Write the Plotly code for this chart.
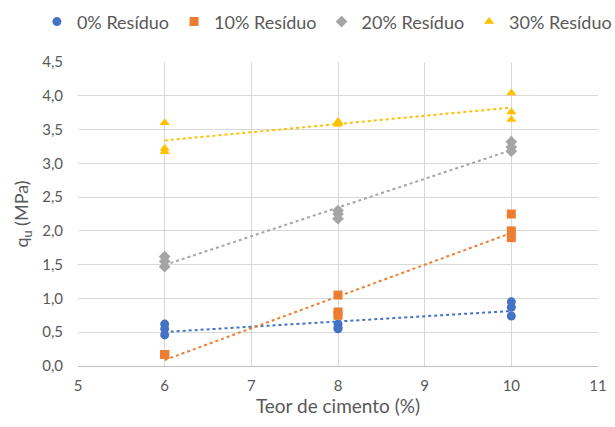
import numpy as np
import plotly.graph_objects as go

x_vals = [6, 6, 6, 8, 8, 8, 10, 10, 10]
series_names = ["0% Resíduo", "10% Resíduo", "20% Resíduo", "30% Resíduo"]
y_0 = [0.62, 0.55, 0.46, 0.62, 0.57, 0.55, 0.95, 0.87, 0.74]
y_10 = [0.17, 0.17, 0.17, 1.05, 0.80, 0.75, 2.25, 2.00, 1.90]
y_20 = [1.62, 1.55, 1.47, 2.30, 2.25, 2.18, 3.32, 3.24, 3.18]
y_30 = [3.60, 3.22, 3.17, 3.60, 3.62, 3.58, 4.04, 3.76, 3.65]
x_ticks = [5, 6, 7, 8, 9, 10, 11]
y_ticks = [0.0, 0.5, 1.0, 1.5, 2.0, 2.5, 3.0, 3.5, 4.0, 4.5]

colors = ["#4472C4", "#ED7D31", "#A5A5A5", "#FFC000"]
symbols = ["circle", "square", "diamond", "triangle-up"]
all_y = [y_0, y_10, y_20, y_30]

fig = go.Figure()
for name, ys, c, s in zip(series_names, all_y, colors, symbols):
    slope, inter = np.polyfit(x_vals, ys, 1)
    xl = [min(x_vals), max(x_vals)]
    fig.add_trace(go.Scatter(x=xl, y=[slope * v + inter for v in xl], mode="lines",
                             line=dict(color=c, width=2, dash="dot"),
                             showlegend=False, hoverinfo="skip"))
for name, ys, c, s in zip(series_names, all_y, colors, symbols):
    fig.add_trace(go.Scatter(x=x_vals, y=ys, mode="markers", name=name,
                             marker=dict(color=c, symbol=s, size=9, line=dict(width=0))))

font_color = "#595959"
fig.update_layout(
    width=615, height=427,
    paper_bgcolor="white", plot_bgcolor="white",
    margin=dict(l=78, r=17, t=62, b=61, autoexpand=False),
    font=dict(family="Lato, Open Sans, sans-serif", size=15, color=font_color),
    legend=dict(orientation="h", x=-0.079, xanchor="left", y=1.132, yanchor="middle",
                font=dict(size=18, color=font_color), itemwidth=30,
                tracegroupgap=0),
    xaxis=dict(range=[5, 11], tickvals=x_ticks, showgrid=True, gridcolor="#D9D9D9",
               showline=True, linecolor="#BFBFBF", zeroline=False, ticks="",
               ticklabelstandoff=6,
               title=dict(text="Teor de cimento (%)", font=dict(size=19, color=font_color), standoff=6)),
    yaxis=dict(range=[0, 4.5], tickvals=y_ticks, tickformat=".1f",
               showgrid=True, gridcolor="#D9D9D9", showline=False, zeroline=False, ticks="",
               ticklabelstandoff=14,
               title=dict(text="q<sub>u</sub> (MPa)", font=dict(size=18, color=font_color), standoff=8)),
    separators=",.",
)
fig.write_html("out.html", config={"displayModeBar": False},
               post_script="document.body.style.margin='0';")
